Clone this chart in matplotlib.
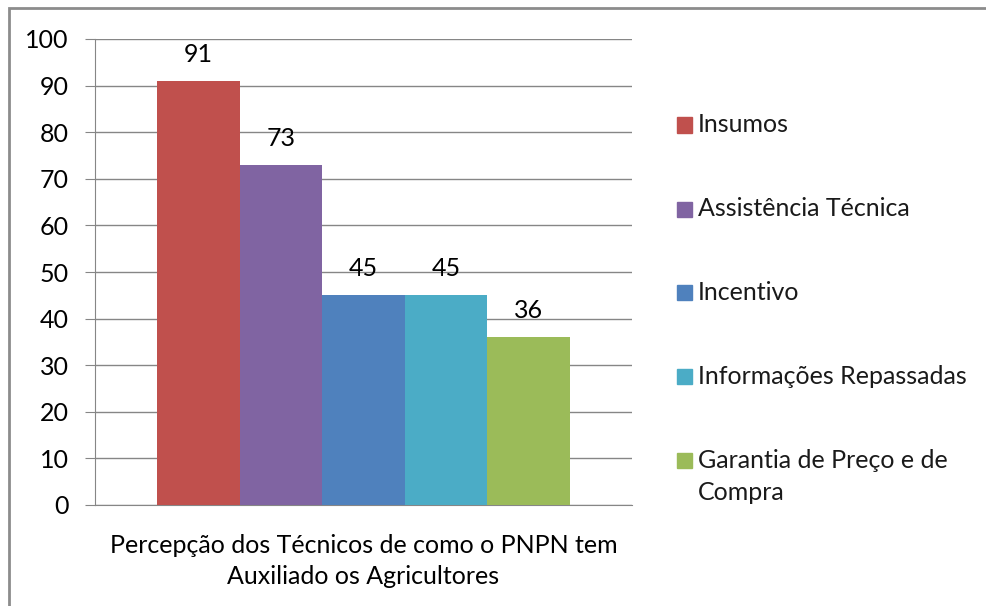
import matplotlib.pyplot as plt
import matplotlib.patches as mpatches
import numpy as np

plt.rcParams['font.family'] = ['Lato', 'DejaVu Sans']

# === Data ===
series = ["Insumos", "Assistência Técnica", "Incentivo",
          "Informações Repassadas", "Garantia de Preço e de\nCompra"]
values = [91, 73, 45, 45, 36]
colors = ["#C0504D", "#8064A2", "#4F81BD", "#4BACC6", "#9BBB59"]
category = "Percepção dos Técnicos de como o PNPN tem\nAuxiliado os Agricultores"

FS = 18
W, H = 987, 606

# === Layout ===
fig = plt.figure(figsize=(W / 100, H / 100), dpi=100)
ax = fig.add_axes([95 / W, 1 - 505 / H, (632 - 95) / W, (505 - 39) / H])

n = len(values)
group = 1 / 1.3
bar_w = group / n
x = -group / 2 + bar_w * (np.arange(n) + 0.5)

bars = ax.bar(x, values, width=bar_w, color=colors, zorder=3)
ax.bar_label(bars, labels=[str(v) for v in values], padding=11, fontsize=FS)

ax.set_xlim(-0.5, 0.5)
ax.set_ylim(0, 100)
ax.set_yticks(np.arange(0, 101, 10))
ax.grid(axis="y", color="#868686", linewidth=1, zorder=0)
ax.set_xticks([0])
ax.set_xticklabels([category], fontsize=FS, linespacing=1.42)
ax.tick_params(axis="x", length=0, pad=21)
ax.tick_params(axis="y", length=7, color="#868686", labelsize=FS, pad=12)

for side in ["top", "right"]:
    ax.spines[side].set_visible(False)
for side in ["left", "bottom"]:
    ax.spines[side].set_color("#868686")

# === Legend (drawn by hand, Excel style) ===
y_first = [125, 209, 293, 376, 460]
for s, c, yc in zip(series, colors, y_first):
    fig.add_artist(mpatches.Rectangle((677 / W, 1 - (yc + 7.5) / H), 15 / W, 15 / H,
                                      transform=fig.transFigure, color=c))
    for k, line in enumerate(s.split("\n")):
        fig.text(698 / W, 1 - (yc + 32 * k) / H, line, fontsize=FS,
                 va="center", ha="left", color="#1a1a1a")

# outer border
fig.add_artist(mpatches.Rectangle((9 / W, -0.05), 1.2, 1 - 8 / H + 0.05,
                                  transform=fig.transFigure, fill=False,
                                  edgecolor="#8C8C8C", linewidth=2))

fig.savefig("out.png", dpi=100)
